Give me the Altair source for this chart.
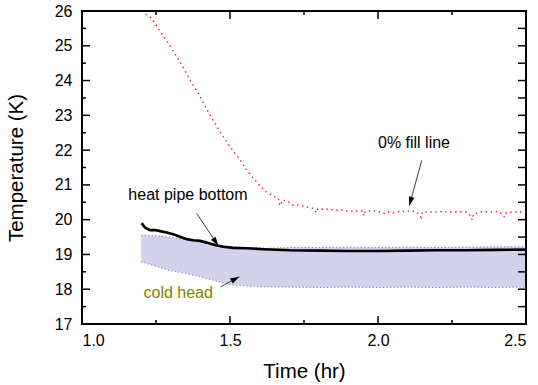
import math
import altair as alt
import pandas as pd

# ---------------- data ----------------
# 0% fill line (red dotted)
fill_t = [1.215, 1.235, 1.2916, 1.331, 1.365, 1.399, 1.432, 1.466, 1.50, 1.534, 1.556,
          1.596, 1.608, 1.618, 1.635, 1.650, 1.663, 1.667, 1.671, 1.677, 1.694, 1.711,
          1.725, 1.746, 1.767, 1.784, 1.791, 1.797, 1.81, 1.832, 1.851, 1.866, 1.883,
          1.90, 1.918, 1.934, 1.949, 1.953, 1.957, 1.977, 1.993, 2.007, 2.021, 2.037,
          2.052, 2.07, 2.09, 2.11, 2.13, 2.146, 2.150, 2.17, 2.19, 2.21, 2.24, 2.27,
          2.30, 2.314, 2.318, 2.322, 2.34, 2.36, 2.39, 2.41, 2.428, 2.434, 2.46, 2.48, 2.50]
fill_T = [25.91, 25.79, 25.07, 24.54, 24.02, 23.54, 23.01, 22.53, 22.10, 21.72, 21.43,
          21.02, 20.92, 20.82, 20.74, 20.66, 20.62, 20.45, 20.40, 20.57, 20.53, 20.42,
          20.43, 20.39, 20.35, 20.32, 20.20, 20.32, 20.30, 20.30, 20.28, 20.28, 20.28,
          20.24, 20.25, 20.25, 20.25, 20.11, 20.24, 20.25, 20.25, 20.22, 20.18, 20.23,
          20.19, 20.23, 20.24, 20.25, 20.23, 20.06, 20.22, 20.23, 20.22, 20.23, 20.22, 20.23,
          20.22, 20.10, 19.99, 20.15, 20.22, 20.23, 20.22, 20.23, 20.07, 20.20, 20.23, 20.22, 20.23]

# heat pipe bottom (black solid)
hp_t = [1.2016, 1.213, 1.23, 1.247, 1.264, 1.286, 1.308, 1.331, 1.354, 1.376, 1.399,
        1.421, 1.449, 1.477, 1.511, 1.556, 1.613, 1.70, 1.80, 1.90, 2.00, 2.10, 2.20,
        2.30, 2.40, 2.50]
hp_T = [19.90, 19.77, 19.70, 19.70, 19.67, 19.63, 19.58, 19.51, 19.44, 19.41, 19.39,
        19.34, 19.27, 19.22, 19.19, 19.18, 19.15, 19.12, 19.11, 19.10, 19.10, 19.11, 19.12,
        19.12, 19.13, 19.14]

# cold head (blue dotted band: upper / lower envelope)
ch_t = [1.20, 1.25, 1.29, 1.35, 1.40, 1.45, 1.51, 1.56, 1.62, 1.70, 1.80, 1.90, 2.00,
        2.10, 2.20, 2.30, 2.40, 2.50]
ch_hi = [19.56, 19.54, 19.51, 19.43, 19.37, 19.28, 19.22, 19.20, 19.18, 19.20, 19.20,
         19.21, 19.20, 19.21, 19.20, 19.21, 19.22, 19.22]
ch_lo = [18.79, 18.66, 18.55, 18.45, 18.36, 18.24, 18.12, 18.09, 18.07, 18.06, 18.05,
         18.06, 18.05, 18.06, 18.05, 18.06, 18.05, 18.06]

x_major = [1.0, 1.5, 2.0, 2.5]
x_minor = [1.25, 1.75, 2.25]
y_major = [17, 18, 19, 20, 21, 22, 23, 24, 25, 26]
y_minor = [17.5, 18.5, 19.5, 20.5, 21.5, 22.5, 23.5, 24.5, 25.5]

# ---------------- chart ----------------
W, H = 444, 313
XD, YD = [1.0, 2.5], [17, 26]
FONT = "Liberation Sans"
xs = alt.Scale(domain=XD, nice=False, zero=False)
ys = alt.Scale(domain=YD, nice=False, zero=False)

x_axis = alt.Axis(values=x_major, format=".1f", title="Time (hr)", grid=False,
                  domain=False, ticks=False, labelFontSize=16, labelPadding=8,
                  titleFontSize=20.5, titleFontWeight="normal", titlePadding=13,
                  labelColor="black", titleColor="black", labelFont=FONT, titleFont=FONT)
y_axis = alt.Axis(values=y_major, format="d", title="Temperature (K)", grid=False,
                  domain=False, ticks=False, labelFontSize=16, labelPadding=10,
                  titleFontSize=20.5, titleFontWeight="normal", titlePadding=28,
                  labelColor="black", titleColor="black", labelFont=FONT, titleFont=FONT)


def X(field):
    return alt.X(field, scale=xs, axis=x_axis)


def Y(field):
    return alt.Y(field, scale=ys, axis=y_axis)


def XD_(v):
    return alt.XDatum(datum=v, scale=xs, axis=x_axis)


def YD_(v):
    return alt.YDatum(datum=v, scale=ys, axis=y_axis)


df_fill = pd.DataFrame({"t": fill_t, "T": fill_T})
df_hp = pd.DataFrame({"t": hp_t, "T": hp_T})
df_ch = pd.DataFrame({"t": ch_t, "hi": ch_hi, "lo": ch_lo})

band = alt.Chart(df_ch).mark_area(color="#1c1c9a", opacity=0.2, clip=True).encode(
    x=X("t:Q"), y=Y("lo:Q"), y2="hi:Q")
band_edges = [
    alt.Chart(df_ch).mark_line(color="#2a2ab0", strokeWidth=1, strokeDash=[1, 2.5],
                               opacity=0.7, clip=True).encode(x=X("t:Q"), y=Y(f"{c}:Q"))
    for c in ("hi", "lo")
]

fill_line = alt.Chart(df_fill).mark_line(color="#e52222", strokeWidth=1.4,
                                         strokeDash=[1.5, 3.5], clip=True).encode(
    x=X("t:Q"), y=Y("T:Q"))

hp_line = alt.Chart(df_hp).mark_line(color="black", strokeWidth=2.6, clip=True).encode(
    x=X("t:Q"), y=Y("T:Q"))


def tick_layer(vals, horizontal, p1, p2):
    d = pd.DataFrame({"v": vals})
    if horizontal:
        enc = dict(x=X("v:Q"), y=alt.value(p1), y2=alt.value(p2))
    else:
        enc = dict(y=Y("v:Q"), x=alt.value(p1), x2=alt.value(p2))
    return alt.Chart(d).mark_rule(color="black", strokeWidth=1.5).encode(**enc)


ticks = [
    tick_layer(x_major, True, H, H - 8), tick_layer(x_minor, True, H, H - 4),
    tick_layer(x_major, True, 0, 8), tick_layer(x_minor, True, 0, 4),
    tick_layer(y_major, False, 0, 8), tick_layer(y_minor, False, 0, 4),
    tick_layer(y_major, False, W, W - 8), tick_layer(y_minor, False, W, W - 8),
]


def arrow(st, tip):
    dx = (tip[0] - st[0]) * W / (XD[1] - XD[0])
    dy = -(tip[1] - st[1]) * H / (YD[1] - YD[0])
    ang = math.degrees(math.atan2(dx, -dy)) % 360
    line = alt.Chart().mark_rule(color="#3a3a3a", strokeWidth=1).encode(
        x=XD_(st[0]), y=YD_(st[1]),
        x2=alt.X2Datum(datum=tip[0]), y2=alt.Y2Datum(datum=tip[1]))
    head = alt.Chart().mark_point(shape="M0,0L-0.32,1L0.32,1Z", filled=True, size=324,
                                  color="black", opacity=1, strokeWidth=0).encode(
        x=XD_(tip[0]), y=YD_(tip[1]), angle=alt.value(ang))
    return [line, head]


def label(txt, pos, color="black"):
    return alt.Chart().mark_text(text=txt, fontSize=16, font=FONT, color=color,
                                 align="center", baseline="middle").encode(
        x=XD_(pos[0]), y=YD_(pos[1]))


annotations = (
    arrow((1.3875, 20.18), (1.4605, 19.25))
    + arrow((2.1476, 21.70), (2.1057, 20.40))
    + arrow((1.4686, 18.07), (1.5314, 18.36))
    + [label("heat pipe bottom", (1.358, 20.71)),
       label("0% fill line", (2.1216, 22.20)),
       label("cold head", (1.325, 17.88), color="#808000")]
)

chart = alt.layer(band, *band_edges, fill_line, hp_line, *ticks, *annotations).properties(
    width=W, height=H,
    autosize=alt.AutoSizeParams(type="none"),
    padding={"left": 82, "top": 11, "right": 12, "bottom": 61},
    background="white",
).configure(
    font=FONT,
    view=alt.ViewConfig(stroke="black", strokeWidth=2),
)

chart.save("out.html", embed_options={"renderer": "svg", "actions": False})
